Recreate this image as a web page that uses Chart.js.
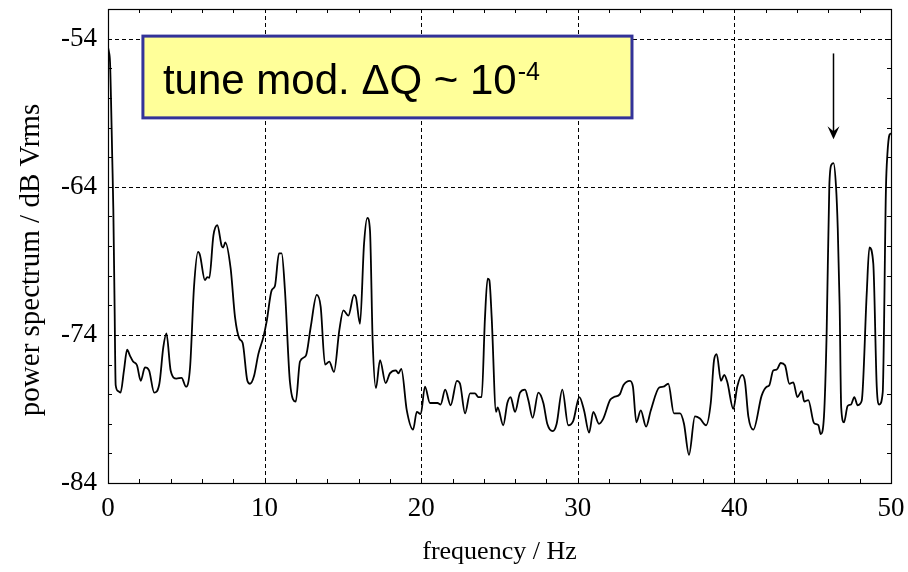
<!DOCTYPE html>
<html>
<head>
<meta charset="utf-8">
<script src="https://cdn.jsdelivr.net/npm/chart.js@4.4.1/dist/chart.umd.min.js"></script>
<style>
  html, body { margin: 0; padding: 0; background: #fff; }
  #wrap { width: 908px; height: 572px; position: relative; }
</style>
</head>
<body>
<div id="wrap"><canvas id="c" width="908" height="572"></canvas></div>
<script>
// frequency in Hz, power in dB Vrms
const freq = [
  0.00, 0.06, 0.13, 0.19, 0.27, 0.34, 0.42, 0.49, 0.65, 0.80,
  1.02, 1.22, 1.40, 1.60, 1.85, 2.09, 2.36, 2.62, 2.95, 3.28,
  3.53, 3.73, 4.00, 4.37, 4.70, 4.98, 5.24, 5.49, 5.75, 5.87,
  6.19, 6.34, 6.47, 6.73, 6.98, 7.26, 7.36, 7.49, 7.83, 8.11,
  8.39, 8.60, 8.90, 9.07, 9.32, 9.60, 9.92, 10.13, 10.45, 10.66,
  10.92, 11.09, 11.30, 11.62, 11.99, 12.26, 12.64, 12.94, 13.33, 13.58,
  13.86, 14.13, 14.43, 14.77, 15.03, 15.35, 15.71, 15.84, 16.09, 16.35,
  16.56, 16.73, 16.90, 17.11, 17.37, 17.73, 18.00, 18.39, 18.54, 18.73,
  19.08, 19.48, 19.72, 19.97, 20.24, 20.56, 21.04, 21.24, 21.53, 21.88,
  22.28, 22.48, 22.80, 23.12, 23.43, 23.65, 23.86, 24.07, 24.24, 24.35,
  24.50, 24.78, 24.88, 25.24, 25.50, 25.71, 25.99, 26.31, 26.63, 26.84,
  27.12, 27.48, 27.80, 28.05, 28.40, 28.65, 29.01, 29.39, 29.71, 30.10,
  30.40, 30.72, 30.99, 31.35, 31.63, 32.06, 32.31, 32.69, 32.91, 33.33,
  33.52, 33.74, 34.02, 34.36, 34.66, 35.20, 35.46, 35.78, 36.14, 36.53,
  36.78, 37.10, 37.48, 37.80, 38.19, 38.49, 38.70, 38.87, 39.14, 39.35,
  39.55, 39.93, 40.18, 40.50, 40.68, 40.89, 41.21, 41.74, 42.06, 42.23,
  42.48, 42.70, 42.96, 43.23, 43.51, 43.76, 44.02, 44.30, 44.46, 44.72,
  45.08, 45.36, 45.51, 45.72, 45.89, 46.06, 46.20, 46.33, 46.49, 46.60,
  46.72, 46.82, 47.00, 47.23, 47.45, 47.66, 47.87, 48.13, 48.45, 48.62,
  48.87, 49.09, 49.25, 49.47, 49.68, 49.77, 49.90, 50.00
];
const power = [
  -54.6, -54.9, -55.6, -58.0, -62.0, -65.5, -72.0, -77.4, -77.8, -77.9,
  -76.4, -75.0, -75.4, -75.8, -76.05, -77.1, -76.2, -76.4, -77.9, -77.3,
  -74.85, -73.9, -76.4, -76.95, -76.9, -77.5, -76.2, -70.8, -68.4, -68.6,
  -70.3, -70.1, -70.15, -67.3, -66.6, -68.0, -68.1, -67.75, -69.5, -72.8,
  -74.25, -74.55, -77.1, -77.3, -76.8, -75.3, -74.15, -73.1, -71.0, -70.7,
  -68.5, -68.5, -71.0, -77.2, -78.5, -75.8, -75.4, -73.5, -71.3, -72.1,
  -76.0, -75.8, -76.5, -73.7, -72.35, -72.7, -71.3, -71.5, -73.25, -67.85,
  -66.1, -66.95, -74.4, -77.6, -75.7, -77.25, -76.6, -76.4, -76.6, -76.3,
  -79.1, -80.4, -79.2, -79.35, -77.5, -78.6, -78.6, -78.7, -77.7, -78.75,
  -77.1, -77.3, -79.3, -77.95, -77.95, -78.2, -78.2, -72.9, -70.2, -70.3,
  -72.8, -79.2, -78.9, -80.1, -78.6, -78.2, -79.2, -77.9, -77.7, -78.4,
  -79.6, -77.9, -78.6, -80.0, -80.5, -80.0, -77.7, -80.1, -79.8, -78.2,
  -79.1, -80.6, -79.2, -80.0, -79.65, -78.4, -78.2, -78.0, -77.4, -77.1,
  -77.5, -79.9, -79.1, -80.2, -79.1, -77.55, -77.5, -77.3, -79.3, -79.3,
  -80.0, -82.1, -79.5, -79.65, -80.1, -78.6, -75.7, -75.3, -77.1, -76.7,
  -77.2, -79.0, -77.5, -76.7, -77.2, -79.5, -80.4, -78.1, -77.5, -77.4,
  -76.4, -76.35, -75.9, -76.05, -77.3, -77.2, -78.2, -77.8, -78.5, -78.4,
  -79.95, -80.1, -80.7, -79.5, -73.9, -64.0, -62.5, -62.4, -64.0, -66.8,
  -72.0, -78.9, -79.9, -78.8, -78.7, -78.2, -78.75, -78.45, -71.2, -68.1,
  -69.2, -77.5, -78.7, -77.9, -64.0, -61.8, -60.5, -60.4
];

const xMajor = [0, 10, 20, 30, 40, 50];
const yMajor = [-84, -74, -64, -54];

// annotation: box corners and arrow, in data units
const noteBox = { x0: 2.23, x1: 33.46, y0: -53.83, y1: -59.35 };
const arrow = { x: 46.28, yFrom: -55.0, yTo: -60.8 };

const SERIF = '"Liberation Serif", "Times New Roman", serif';
const SANS = '"Liberation Sans", Arial, sans-serif';

function noOverhang(s) {
  s.paddingTop = 0;
  s.paddingBottom = 0;
  s.paddingLeft = 0;
  s.paddingRight = 0;
}

const frame = {
  id: "frame",
  beforeDatasetsDraw(chart) {
    const { ctx, chartArea: a, scales: { x, y } } = chart;
    ctx.save();
    ctx.strokeStyle = "#000";
    ctx.lineWidth = 1;
    ctx.setLineDash([4, 3]);
    xMajor.forEach((v) => {
      if (v <= x.min || v >= x.max) return;
      const px = Math.round(x.getPixelForValue(v)) + 0.5;
      ctx.beginPath();
      ctx.moveTo(px, a.top);
      ctx.lineTo(px, a.bottom);
      ctx.stroke();
    });
    yMajor.forEach((v) => {
      if (v <= y.min || v >= y.max) return;
      const py = Math.round(y.getPixelForValue(v)) + 0.5;
      ctx.beginPath();
      ctx.moveTo(a.left, py);
      ctx.lineTo(a.right, py);
      ctx.stroke();
    });
    ctx.restore();
  },
  afterDatasetsDraw(chart) {
    const { ctx, chartArea: a, scales: { x, y } } = chart;
    ctx.save();
    ctx.strokeStyle = "#000";
    ctx.lineWidth = 1.2;
    ctx.strokeRect(a.left + 0.5, a.top + 0.5, a.right - a.left, a.bottom - a.top);

    // inward tick marks on all four sides
    ctx.lineWidth = 1;
    x.ticks.forEach((t) => {
      const px = Math.round(x.getPixelForValue(t.value)) + 0.5;
      ctx.beginPath();
      ctx.moveTo(px, a.bottom); ctx.lineTo(px, a.bottom - 4);
      ctx.moveTo(px, a.top); ctx.lineTo(px, a.top + 4);
      ctx.stroke();
    });
    y.ticks.forEach((t) => {
      const py = Math.round(y.getPixelForValue(t.value)) + 0.5;
      ctx.beginPath();
      ctx.moveTo(a.left, py); ctx.lineTo(a.left + 4, py);
      ctx.moveTo(a.right, py); ctx.lineTo(a.right - 4, py);
      ctx.stroke();
    });

    // axis titles
    ctx.fillStyle = "#000";
    ctx.font = "26px " + SERIF;
    ctx.textAlign = "center";
    ctx.textBaseline = "middle";
    ctx.fillText("frequency / Hz", (a.left + a.right) / 2, 552);
    ctx.save();
    ctx.translate(31, 260);
    ctx.rotate(-Math.PI / 2);
    ctx.font = "29px " + SERIF;
    ctx.fillText("power spectrum / dB Vrms", 0, 0);
    ctx.restore();

    // yellow note box
    const bx0 = x.getPixelForValue(noteBox.x0), bx1 = x.getPixelForValue(noteBox.x1);
    const by0 = y.getPixelForValue(noteBox.y0), by1 = y.getPixelForValue(noteBox.y1);
    ctx.fillStyle = "#ffff99";
    ctx.fillRect(bx0, by0, bx1 - bx0, by1 - by0);
    ctx.strokeStyle = "#333399";
    ctx.lineWidth = 3;
    ctx.strokeRect(bx0, by0, bx1 - bx0, by1 - by0);

    ctx.fillStyle = "#000";
    ctx.textAlign = "left";
    ctx.textBaseline = "alphabetic";
    ctx.font = "42px " + SANS;
    const main = "tune mod. \u0394Q ~ 10";
    const tx = bx0 + 20, ty = by0 + 58;
    ctx.fillText(main, tx, ty);
    const w = ctx.measureText(main).width;
    ctx.font = "25px " + SANS;
    ctx.fillText("-4", tx + w + 1, ty - 14);

    // arrow pointing at the tune line
    const ax = Math.round(x.getPixelForValue(arrow.x)) + 0.5;
    const ay0 = y.getPixelForValue(arrow.yFrom), ay1 = y.getPixelForValue(arrow.yTo);
    ctx.strokeStyle = "#000";
    ctx.lineWidth = 1.5;
    ctx.beginPath();
    ctx.moveTo(ax, ay0);
    ctx.lineTo(ax, ay1 - 6);
    ctx.stroke();
    ctx.beginPath();
    ctx.moveTo(ax, ay1);
    ctx.lineTo(ax - 6, ay1 - 13);
    ctx.lineTo(ax, ay1 - 8);
    ctx.lineTo(ax + 6, ay1 - 13);
    ctx.closePath();
    ctx.fillStyle = "#000";
    ctx.fill();
    ctx.restore();
  },
};

const points = freq.map((f, i) => ({ x: f, y: power[i] }));

new Chart(document.getElementById("c"), {
  type: "line",
  data: {
    datasets: [{
      data: points,
      borderColor: "#000",
      borderWidth: 1.8,
      pointRadius: 0,
      cubicInterpolationMode: "monotone",
      fill: false,
    }],
  },
  options: {
    responsive: false,
    animation: false,
    events: [],
    layout: { padding: { top: 9, right: 17, left: 0, bottom: 0 } },
    plugins: { legend: { display: false }, tooltip: { enabled: false } },
    scales: {
      x: {
        type: "linear",
        min: 0,
        max: 50,
        afterFit: (s) => { s.height = 89; noOverhang(s); },
        grid: { display: false, drawTicks: false },
        border: { display: false },
        ticks: {
          stepSize: 2,
          autoSkip: false,
          maxRotation: 0,
          padding: 10,
          color: "#000",
          font: { family: SERIF, size: 27 },
          callback: (v) => (xMajor.includes(v) ? String(v) : ""),
        },
      },
      y: {
        min: -84,
        max: -52,
        afterFit: (s) => { s.width = 108; noOverhang(s); },
        grid: { display: false, drawTicks: false },
        border: { display: false },
        ticks: {
          stepSize: 2,
          autoSkip: false,
          padding: 11,
          color: "#000",
          font: { family: SERIF, size: 27 },
          callback: (v) => (yMajor.includes(v) ? String(v) : ""),
        },
      },
    },
  },
  plugins: [frame],
});
</script>
</body>
</html>
